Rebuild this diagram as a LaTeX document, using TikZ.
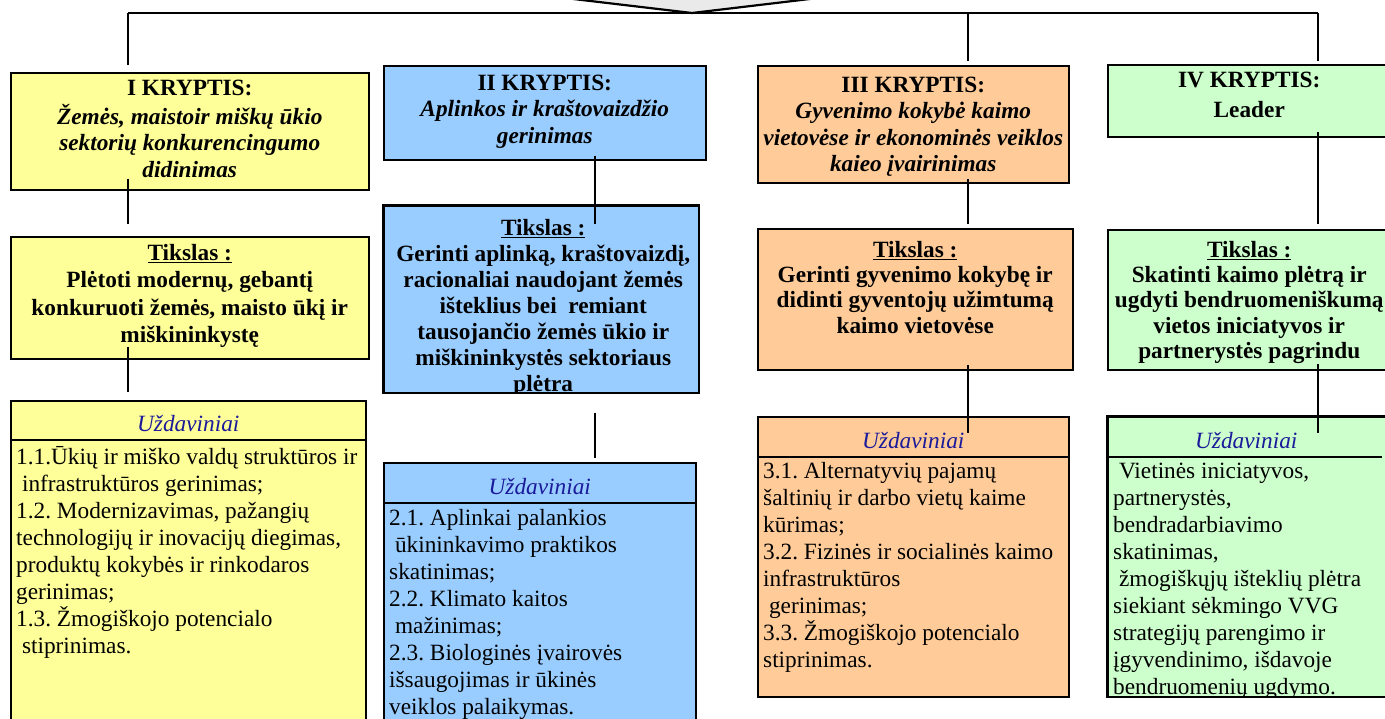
\documentclass[tikz,border=0pt]{standalone}
\usepackage{fontspec}
\setmainfont{Liberation Serif}
\usetikzlibrary{calc}
\frenchspacing
\definecolor{krI}{HTML}{FFFF99}
\definecolor{krII}{HTML}{99CCFF}
\definecolor{krIII}{HTML}{FFCC99}
\definecolor{krIV}{HTML}{CCFFCC}
\definecolor{uzdblue}{HTML}{1A1A9A}
\definecolor{tipgray}{HTML}{EAEAEA}

\begin{document}
\begin{tikzpicture}[
    x=1pt, y=-1pt,
    box/.style={rectangle, draw=black, line width=1.5pt, anchor=north west, inner sep=0pt},
    head/.style={anchor=north, align=center, inner sep=0pt, font=\fontsize{23.3}{26.5}\selectfont\bfseries},
    goal/.style={anchor=north, align=center, inner sep=0pt, font=\fontsize{23.3}{25.3}\selectfont\bfseries},
    taskhead/.style={anchor=north, inner sep=0pt, text=uzdblue, font=\fontsize{23.3}{27}\selectfont\itshape},
    task/.style={anchor=north west, align=left, inner sep=0pt, font=\fontsize{23.3}{27}\selectfont},
    line/.style={draw, line width=1.3pt, black}
]
\useasboundingbox (0,0) rectangle (1385,718);
\clip (0,0) rectangle (1385,718);

% Top arrow and bar
\coordinate (tip) at (692,13);
\coordinate (barL) at (128,13);
\coordinate (barR) at (1318,13);
\coordinate (axII) at (595,13);
\coordinate (axIII) at (968,13);
\fill[tipgray] (565,-2) -- (tip) -- (818,-2) -- cycle;
\draw[line, line width=2.2pt, line join=miter] (565,-2) -- (tip) -- (818,-2);

% Boxes
\node[box, fill=krI, minimum width=358, minimum height=117] (k1) at (10,72) {};
\node[box, fill=krI, minimum width=358, minimum height=122] (t1) at (10,236) {};
\node[box, fill=krI, minimum width=355, minimum height=340] (u1) at (10,400) {};
\node[box, fill=krII, minimum width=322, minimum height=94] (k2) at (383,65) {};
\node[box, fill=krII, minimum width=315, minimum height=187] (t2) at (383,205) {};
\node[box, fill=krII, minimum width=312, minimum height=278] (u2) at (383,462) {};
\node[box, fill=krIII, minimum width=311, minimum height=117] (k3) at (757,65) {};
\node[box, fill=krIII, minimum width=315, minimum height=141] (t3) at (757,228) {};
\node[box, fill=krIII, minimum width=311, minimum height=280] (u3) at (757,416) {};
\node[box, fill=krIV, minimum width=283, minimum height=72] (k4) at (1107,64) {};
\node[box, fill=krIV, minimum width=283, minimum height=140] (t4) at (1107,229) {};
\node[box, fill=krIV, minimum width=283, minimum height=280] (u4) at (1107,416) {};

% Kryptis texts
\node[head] (k1txt) at ($(k1.north)+(0,4.5)$) {\strut I KRYPTIS:\\ \textit{Žemės, maistoir miškų ūkio}\\ \textit{sektorių konkurencingumo}\\ \textit{didinimas}};
\node[head] (k2txt) at ($(k2.north)+(0,6.5)$) {\strut II KRYPTIS:\\ \textit{Aplinkos ir kraštovaizdžio}\\ \textit{gerinimas}};
\node[head] (k3txt) at ($(k3.north)+(0,8.5)$) {\strut III KRYPTIS:\\ \textit{Gyvenimo kokybė kaimo}\\ \textit{vietovėse ir ekonominės veiklos}\\ \textit{kaieo įvairinimas}};
\node[head] (k4txt) at ($(k4.north)+(0,4.5)$) {\strut IV KRYPTIS:\\[3.5pt] Leader};

% Tikslas texts
\node[goal, font=\fontsize{23.3}{27.5}\selectfont\bfseries] (t1txt) at ($(t1.north)+(0,4.8)$) {\strut\underline{Tikslas :}\\ Plėtoti modernų, gebantį\\ konkuruoti žemės, maisto ūkį ir\\ miškininkystę};
\begin{scope}
\clip (t2.north west) rectangle (t2.south east);
\node[goal, font=\fontsize{23.3}{26}\selectfont\bfseries] (t2txt) at ($(t2.north)+(2,11.8)$) {\strut\underline{Tikslas :}\\ Gerinti aplinką, kraštovaizdį,\\ racionaliai naudojant žemės\\ išteklius bei\ \ remiant\\ tausojančio žemės ūkio ir\\ miškininkystės sektoriaus\\ plėtra};
\end{scope}
\draw[line width=1.5pt] (t2.north west) rectangle (t2.south east);
\node[goal] (t3txt) at ($(t3.north)+(0,11.3)$) {\strut\underline{Tikslas :}\\ Gerinti gyvenimo kokybę ir\\ didinti gyventojų užimtumą\\ kaimo vietovėse};
\node[goal] (t4txt) at ($(t4.north)+(0,10.3)$) {\strut\underline{Tikslas :}\\ Skatinti kaimo plėtrą ir\\ ugdyti bendruomeniškumą\\ vietos iniciatyvos ir\\ partnerystės pagrindu};

% Uzdaviniai headers
\node[taskhead] (u1head) at ($(u1.north)+(0,12.1)$) {\strut Uždaviniai};
\node[taskhead] (u2head) at ($(u2.north)+(0,13.1)$) {\strut Uždaviniai};
\node[taskhead] (u3head) at ($(u3.north)+(0,13.1)$) {\strut Uždaviniai};
\node[taskhead] (u4head) at ($(u4.north)+(-3,13.1)$) {\strut Uždaviniai};
\draw[line] ($(u1.north west)+(0,40)$) -- ($(u1.north east)+(0,40)$);
\draw[line] ($(u2.north west)+(0,41)$) -- ($(u2.north east)+(0,41)$);
\draw[line] ($(u3.north west)+(0,41)$) -- ($(u3.north east)+(0,41)$);
\draw[line] ($(u4.north west)+(0,41)$) -- ($(u4.north east)+(-10,41)$);

% Uzdaviniai texts
\node[task] (u1txt) at ($(u1.north west)+(6,45.1)$) {\strut 1.1.Ūkių ir miško valdų struktūros ir\\ \ infrastruktūros gerinimas;\\ 1.2. Modernizavimas, pažangių\\ technologijų ir inovacijų diegimas,\\ produktų kokybės ir rinkodaros\\ gerinimas;\\ 1.3. Žmogiškojo potencialo\\ \ stiprinimas.};
\node[task] (u2txt) at ($(u2.north west)+(6,44.1)$) {\strut 2.1. Aplinkai palankios\\ \ ūkininkavimo praktikos\\ skatinimas;\\ 2.2. Klimato kaitos\\ \ mažinimas;\\ 2.3. Biologinės įvairovės\\ išsaugojimas ir ūkinės\\ veiklos palaikymas.};
\node[task] (u3txt) at ($(u3.north west)+(6,43.1)$) {\strut 3.1. Alternatyvių pajamų\\ šaltinių ir darbo vietų kaime\\ kūrimas;\\ 3.2. Fizinės ir socialinės kaimo\\ infrastruktūros\\ \ gerinimas;\\ 3.3. Žmogiškojo potencialo\\ stiprinimas.};
\begin{scope}
\clip (u4.north west) rectangle (u4.south east);
\node[task] (u4txt) at ($(u4.north west)+(6,43.1)$) {\strut\ Vietinės iniciatyvos,\\ partnerystės,\\ bendradarbiavimo\\ skatinimas,\\ \ žmogiškųjų išteklių plėtra\\ siekiant sėkmingo VVG\\ strategijų parengimo ir\\ įgyvendinimo, išdavoje\\ bendruomenių ugdymo.};
\end{scope}
\draw[line width=1.5pt] (u4.north west) rectangle (u4.south east);

% Edges
\draw[line] (barL) -- (barR);
\draw[line] (barL) -- ($(barL |- k1.north)+(0,-7)$);
\draw[line] (axIII) -- ($(axIII |- k3.north)+(0,-4)$);
\draw[line] (barR) -- ($(barR |- k4.north)+(0,-3)$);

\draw[line] ($(barL |- k1.south)+(0,-12)$) -- ($(barL |- t1.north)+(0,-12)$);
\draw[line] ($(barL |- t1.south)+(0,-13)$) -- ($(barL |- u1.north)+(0,-8)$);
\draw[line] ($(axII |- k2.south)+(0,-5)$) -- ($(axII |- t2.north)+(0,19)$);
\draw[line] ($(axII |- t2.south)+(0,19)$) -- ($(axII |- u2.north)+(0,-4)$);
\draw[line] ($(axIII |- k3.south)+(0,-5)$) -- ($(axIII |- t3.north)+(0,-4)$);
\draw[line] ($(axIII |- t3.south)+(0,-6)$) -- ($(axIII |- u3.north)+(0,17)$);
\draw[line] ($(barR |- k4.south)+(0,-6)$) -- ($(barR |- t4.north)+(0,-5)$);
\draw[line] ($(barR |- t4.south)+(0,-7)$) -- ($(barR |- u4.north)+(0,17)$);

\end{tikzpicture}
\end{document}
